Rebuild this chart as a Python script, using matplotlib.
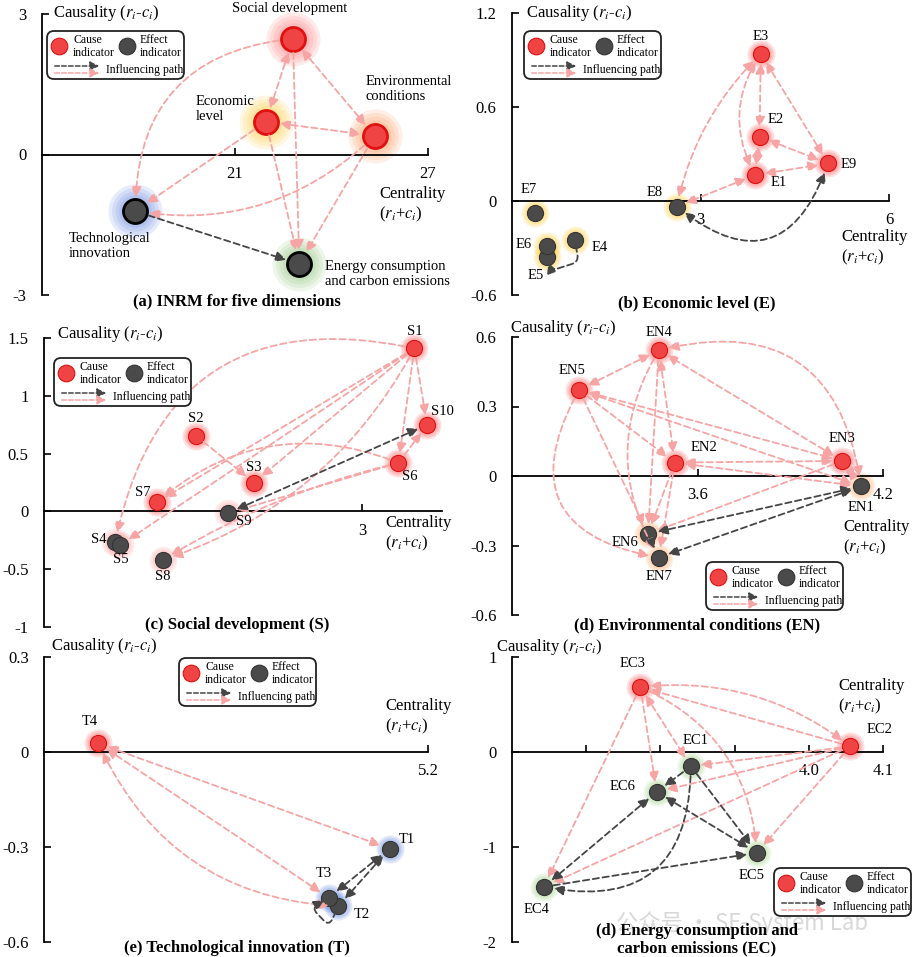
import matplotlib.pyplot as plt
import matplotlib.patches as mpatches
from matplotlib.lines import Line2D
from matplotlib.transforms import Affine2D

plt.rcParams['font.family'] = ['Liberation Serif', 'DejaVu Serif']
plt.rcParams['mathtext.fontset'] = 'stix'
plt.rcParams['axes.unicode_minus'] = False

# ---------------- data ----------------
# (a) five dimensions
dim_ids = ['S', 'E', 'EN', 'T', 'EC']
dim_names = ['Social development', 'Economic\nlevel', 'Environmental\nconditions',
             'Technological\ninnovation', 'Energy consumption\nand carbon emissions']
dim_x = [22.8, 21.96, 25.34, 17.9, 23.0]
dim_y = [2.47, 0.70, 0.40, -1.21, -2.34]
dim_edges = [('S', 'E', '<->'), ('S', 'EN', '<->'), ('E', 'EN', '<->'), ('S', 'T', '->'),
             ('S', 'EC', '->'), ('E', 'T', '->'), ('E', 'EC', '->'), ('EN', 'T', '->'),
             ('EN', 'EC', '->'), ('T', 'EC', 'd->')]

# (b) economic level
e_ids = ['E1', 'E2', 'E3', 'E4', 'E5', 'E6', 'E7', 'E8', 'E9']
e_x = [3.87, 3.94, 3.96, 1.00, 0.55, 0.55, 0.36, 2.62, 5.03]
e_y = [0.166, 0.41, 0.94, -0.25, -0.36, -0.29, -0.079, -0.036, 0.24]
e_edges = [('E3', 'E8', '<->'), ('E3', 'E2', '<->'), ('E3', 'E1', '<->'), ('E3', 'E9', '<->'),
           ('E2', 'E1', '<->'), ('E2', 'E9', '<->'), ('E1', 'E9', '<->'), ('E1', 'E8', '<->'),
           ('E9', 'E8', 'd<->'), ('E4', 'E5', 'd->')]

# (c) social development
s_ids = ['S1', 'S2', 'S3', 'S4', 'S5', 'S6', 'S7', 'S8', 'S9', 'S10']
s_x = [3.49, 1.43, 1.98, 0.67, 0.72, 3.34, 1.06, 1.12, 1.73, 3.61]
s_y = [1.41, 0.655, 0.25, -0.265, -0.29, 0.42, 0.078, -0.42, -0.017, 0.75]
s_edges = [('S1', 'S4', '->'), ('S1', 'S10', '->'), ('S1', 'S6', '->'), ('S1', 'S3', '->'),
           ('S1', 'S7', '->'), ('S1', 'S5', '->'), ('S1', 'S8', '->'), ('S6', 'S7', '->'),
           ('S6', 'S9', '->'), ('S6', 'S8', '->'), ('S6', 'S10', '->'), ('S2', 'S3', '->'),
           ('S9', 'S10', 'd<->')]

# (d) environmental conditions
en_ids = ['EN1', 'EN2', 'EN3', 'EN4', 'EN5', 'EN6', 'EN7']
en_x = [4.129, 3.527, 4.069, 3.475, 3.217, 3.44, 3.475]
en_y = [-0.045, 0.058, 0.065, 0.543, 0.372, -0.25, -0.352]
en_edges = [('EN4', 'EN5', '<->'), ('EN4', 'EN6', '->'), ('EN4', 'EN2', '<->'), ('EN3', 'EN4', '<->'),
            ('EN4', 'EN1', '<->'), ('EN4', 'EN7', '->'), ('EN5', 'EN2', '->'), ('EN5', 'EN3', '<->'),
            ('EN5', 'EN1', '<->'), ('EN5', 'EN6', '->'), ('EN5', 'EN7', '->'), ('EN2', 'EN3', '<->'),
            ('EN2', 'EN1', '<->'), ('EN2', 'EN6', '->'), ('EN2', 'EN7', '->'), ('EN3', 'EN6', '->'),
            ('EN3', 'EN1', '<->'), ('EN1', 'EN6', 'd<->'), ('EN1', 'EN7', 'd<->'), ('EN6', 'EN7', 'd->')]

# (e) technological innovation
t_ids = ['T1', 'T2', 'T3', 'T4']
t_x = [5.08, 4.92, 4.89, 4.17]
t_y = [-0.305, -0.487, -0.46, 0.027]
t_edges = [('T4', 'T1', '<->'), ('T4', 'T3', '<->'), ('T4', 'T2', '<->'),
           ('T1', 'T3', 'd<->'), ('T1', 'T2', 'd<->'), ('T2', 'T3', 'd->')]

# (f) energy consumption and carbon emissions
ec_ids = ['EC1', 'EC2', 'EC3', 'EC4', 'EC5', 'EC6']
ec_x = [3.841, 4.056, 3.773, 3.643, 3.930, 3.795]
ec_y = [-0.15, 0.06, 0.684, -1.42, -1.06, -0.42]
ec_edges = [('EC3', 'EC2', '<->'), ('EC2', 'EC3', '->'), ('EC3', 'EC4', '->'), ('EC3', 'EC6', '->'),
            ('EC3', 'EC1', '<->'), ('EC3', 'EC5', '->'), ('EC2', 'EC1', '->'), ('EC2', 'EC6', '->'),
            ('EC2', 'EC4', '->'), ('EC2', 'EC5', '->'), ('EC1', 'EC6', 'd->'), ('EC1', 'EC5', 'd->'),
            ('EC1', 'EC4', 'd->'), ('EC6', 'EC4', 'd<->'), ('EC6', 'EC5', 'd<->'), ('EC4', 'EC5', 'd->')]

# ---------------- styles ----------------
PINK = '#f6a4a4'
DARK = '#454545'
RED = '#f04444'
REDEDGE = '#e01010'
GREY = '#4a4a4a'

W, H = 913, 957
fig = plt.figure(figsize=(W / 100, H / 100), dpi=100)
pix = Affine2D().scale(1 / W, -1 / H).translate(0, 1) + fig.transFigure


def make_ax(box, xlim, ylim, xt, xtl, yt, ytl):
    x0, y0, x1, y1 = box
    ax = fig.add_axes([x0 / W, 1 - y1 / H, (x1 - x0) / W, (y1 - y0) / H])
    ax.set_xlim(xlim)
    ax.set_ylim(ylim)
    ax.spines['top'].set_visible(False)
    ax.spines['right'].set_visible(False)
    ax.spines['bottom'].set_position(('data', 0))
    ax.spines['left'].set_linewidth(1.3)
    ax.spines['bottom'].set_linewidth(1.3)
    ax.set_xticks(xt, xtl)
    ax.set_yticks(yt, ytl)
    ax.tick_params(axis='x', direction='in', length=5, width=1.2, labelsize=12, pad=8)
    ax.tick_params(axis='y', direction='in', length=5, width=1.2, labelsize=12, pad=11)
    ax.patch.set_alpha(0)
    return ax


def draw_edges(ax, pos, edges, bend, shrink, tight=()):
    for a, b, mode in edges:
        col = DARK if mode.startswith('d') else PINK
        style = '<|-|>' if '<' in mode else '-|>'
        cs = bend.get((a, b), 0)
        if not isinstance(cs, str):
            cs = f'arc3,rad={cs}'
        sh = 4 if (a, b) in tight else shrink
        arr = mpatches.FancyArrowPatch(pos[a], pos[b], connectionstyle=cs,
                                       arrowstyle=style + ',head_length=0.6,head_width=0.3',
                                       mutation_scale=10, color=col, lw=1.3,
                                       linestyle=(0, (3.5, 2)), shrinkA=sh, shrinkB=sh,
                                       zorder=5, clip_on=False)
        ax.add_patch(arr)


def draw_nodes(ax, ids, xs, ys, glow, big=False):
    r = 27 if big else 14
    for k, x, y in zip(ids, xs, ys):
        for i in range(6):
            d = r * (1 - i * 0.13) * 2 * 0.72
            ax.scatter(x, y, s=d ** 2, color=glow[k], alpha=0.14 if big else 0.17, lw=0,
                       zorder=1, clip_on=False)
    for k, x, y in zip(ids, xs, ys):
        cause = y > 0
        ax.scatter(x, y, s=300 if big else 135, color=RED if cause else GREY,
                   edgecolors=(REDEDGE if cause else ('black' if big else '#333333')),
                   linewidths=2 if big else 0.8, zorder=4, clip_on=False)


def draw_labels(ax, ids, xs, ys, names, offs, size=10.5):
    for k, x, y, n in zip(ids, xs, ys, names):
        dx, dy, ha = offs[k]
        ax.annotate(n, (x, y), xytext=(dx, dy), textcoords='offset pixels', ha=ha, va='center',
                    fontsize=size, zorder=6, annotation_clip=False)


def legend(x0, y0):
    fig.add_artist(mpatches.FancyBboxPatch((x0, y0), 137, 48, boxstyle='round,pad=0,rounding_size=7',
                                           transform=pix, fc='white', ec='#222222', lw=1.3, zorder=6))
    fig.add_artist(Line2D([x0 + 12], [y0 + 15], marker='o', ms=12, mfc=RED, mec=REDEDGE, mew=0.8,
                          transform=pix, zorder=7))
    fig.add_artist(Line2D([x0 + 80], [y0 + 15], marker='o', ms=12, mfc=GREY, mec='#333333', mew=0.8,
                          transform=pix, zorder=7))
    for tx, t1 in [(x0 + 26, 'Cause'), (x0 + 93, 'Effect')]:
        fig.text(tx, y0 + 9, t1, transform=pix, fontsize=8.5, va='center', zorder=7)
        fig.text(tx, y0 + 22, 'indicator', transform=pix, fontsize=8.5, va='center', zorder=7)
    for yy, col in [(y0 + 35, DARK), (y0 + 42, PINK)]:
        fig.add_artist(mpatches.FancyArrowPatch((x0 + 5, yy), (x0 + 55, yy), transform=pix,
                                                arrowstyle='-|>,head_length=0.6,head_width=0.3',
                                                mutation_scale=9, color=col, lw=1.1,
                                                linestyle=(0, (3, 1.5)), zorder=7))
    fig.text(x0 + 59, y0 + 39, 'Influencing path', transform=pix, fontsize=8.5, va='center', zorder=7)


def axis_texts(cx, cy, rx, ry):
    fig.text(cx, cy, 'Causality ($r_i$-$c_i$)', transform=pix, fontsize=12, va='center')
    fig.text(rx, ry, 'Centrality\n($r_i$+$c_i$)', transform=pix, fontsize=12, va='center')


def title(x, y, s):
    fig.text(x, y, s, transform=pix, fontsize=12, fontweight='bold', ha='center', va='center',
             multialignment='center', linespacing=1.1)


# ---------------- (a) ----------------
ax = make_ax((42, 14, 428, 295), (15, 27), (-3, 3), [21, 27], ['21', '27'], [-3, 0, 3], ['-3', '0', '3'])
pos = dict(zip(dim_ids, zip(dim_x, dim_y)))
draw_edges(ax, pos, dim_edges, {('S', 'T'): 0.45, ('EN', 'T'): -0.25}, 10)
draw_nodes(ax, dim_ids, dim_x, dim_y,
           {'S': '#ff7070', 'E': '#ffc830', 'EN': '#ff9050', 'T': '#5a7fe0', 'EC': '#88c070'}, big=True)
draw_labels(ax, dim_ids, dim_x, dim_y, dim_names,
            {'S': (-3, 30, 'center'), 'E': (-70, 13, 'left'), 'EN': (-9, 47, 'left'),
             'T': (-67, -35, 'left'), 'EC': (26, -10, 'left')})
legend(47, 31)
axis_texts(53, 13, 379, 205)
title(237, 301, '(a) INRM for five dimensions')

# ---------------- (b) ----------------
ax = make_ax((512, 13, 889, 295), (0, 6), (-0.6, 1.2), [3, 6], ['3', '6'],
             [-0.6, 0, 0.6, 1.2], ['-0.6', '0', '0.6', '1.2'])
pos = dict(zip(e_ids, zip(e_x, e_y)))
draw_edges(ax, pos, e_edges, {('E3', 'E8'): 0.15, ('E3', 'E1'): 0.3, ('E9', 'E8'): -0.7,
                              ('E4', 'E5'): 'arc,angleA=-80,angleB=-70,armA=22,armB=14,rad=7'},
           7, tight={('E4', 'E5')})
draw_nodes(ax, e_ids, e_x, e_y, {k: ('#ff5050' if y > 0 else '#ffc820') for k, y in zip(e_ids, e_y)})
draw_labels(ax, e_ids, e_x, e_y, e_ids,
            {'E1': (24, -8, 'center'), 'E2': (16, 17, 'center'), 'E3': (0, 17, 'center'),
             'E4': (25, -7, 'center'), 'E5': (-11, -18, 'center'), 'E6': (-23, 2, 'center'),
             'E7': (-6, 24, 'center'), 'E8': (-22, 14, 'center'), 'E9': (21, -1, 'center')})
legend(524, 31)
axis_texts(526, 13, 841, 248)
title(697, 303, '(b) Economic level (E)')

# ---------------- (c) ----------------
ax = make_ax((44, 338, 442, 627), (0, 3.75), (-1, 1.5), [3], ['3'],
             [-1, -0.5, 0, 0.5, 1, 1.5], ['-1', '-0.5', '0', '0.5', '1', '1.5'])
pos = dict(zip(s_ids, zip(s_x, s_y)))
draw_edges(ax, pos, s_edges, {('S1', 'S4'): 0.5, ('S1', 'S8'): -0.2, ('S6', 'S7'): 0.3,
                              ('S6', 'S8'): 0.08}, 7)
draw_nodes(ax, s_ids, s_x, s_y, {k: ('#ff5050' if y > 0 else '#ffa0a0') for k, y in zip(s_ids, s_y)})
draw_labels(ax, s_ids, s_x, s_y, s_ids,
            {'S1': (0, 17, 'center'), 'S2': (0, 17, 'center'), 'S3': (0, 15, 'center'),
             'S4': (-16, 3, 'center'), 'S5': (0, -15, 'center'), 'S6': (11, -14, 'center'),
             'S7': (-14, 10, 'center'), 'S8': (0, -17, 'center'), 'S9': (16, -8, 'center'),
             'S10': (15, 13, 'center')})
legend(54, 358)
axis_texts(57, 334, 385, 534)
title(237, 625, '(c) Social development (S)')

# ---------------- (d) ----------------
ax = make_ax((512, 337, 883, 615), (3.0, 4.2), (-0.6, 0.6), [3.6, 4.2], ['3.6', '4.2'],
             [-0.6, -0.3, 0, 0.3, 0.6], ['-0.6', '-0.3', '0', '0.3', '0.6'])
pos = dict(zip(en_ids, zip(en_x, en_y)))
draw_edges(ax, pos, en_edges, {('EN4', 'EN1'): -0.55, ('EN5', 'EN7'): 0.7, ('EN4', 'EN7'): 0.3}, 7)
draw_nodes(ax, en_ids, en_x, en_y, {k: ('#ff5050' if y > 0 else '#ffa860') for k, y in zip(en_ids, en_y)})
draw_labels(ax, en_ids, en_x, en_y, en_ids,
            {'EN1': (0, -21, 'center'), 'EN2': (29, 15, 'center'), 'EN3': (0, 22, 'center'),
             'EN4': (0, 18, 'center'), 'EN5': (-7, 19, 'center'), 'EN6': (-23, -9, 'center'),
             'EN7': (0, -19, 'center')})
legend(706, 562)
axis_texts(510, 328, 843, 538)
title(697, 625, '(d) Environmental conditions (EN)')

# ---------------- (e) ----------------
ax = make_ax((44, 657, 428, 942), (4.0, 5.2), (-0.6, 0.3), [5.2], ['5.2'],
             [-0.6, -0.3, 0, 0.3], ['-0.6', '-0.3', '0', '0.3'])
pos = dict(zip(t_ids, zip(t_x, t_y)))
draw_edges(ax, pos, t_edges, {('T4', 'T2'): 0.3,
                              ('T2', 'T3'): 'arc,angleA=-115,angleB=-150,armA=22,armB=20,rad=8'},
           7, tight={('T2', 'T3')})
draw_nodes(ax, t_ids, t_x, t_y, {k: ('#ff5050' if y > 0 else '#5a7fe0') for k, y in zip(t_ids, t_y)})
draw_labels(ax, t_ids, t_x, t_y, t_ids,
            {'T1': (17, 9, 'center'), 'T2': (23, -8, 'center'), 'T3': (-5, 24, 'center'),
             'T4': (-9, 22, 'center')})
legend(179, 658)
axis_texts(51, 646, 385, 717)
title(237, 948, '(e) Technological innovation (T)')

# ---------------- (f) ----------------
ax = make_ax((512, 657, 883, 942), (3.6, 4.1), (-2, 1), [3.7, 3.8, 3.9, 4.0, 4.1],
             ['', '', '', '4.0', '4.1'], [-2, -1, 0, 1], ['-2', '-1', '0', '1'])
pos = dict(zip(ec_ids, zip(ec_x, ec_y)))
draw_edges(ax, pos, ec_edges, {('EC3', 'EC2'): -0.2, ('EC3', 'EC5'): -0.3, ('EC1', 'EC4'): -0.6}, 7)
draw_nodes(ax, ec_ids, ec_x, ec_y, {k: ('#ff5050' if y > 0 else '#9cd080') for k, y in zip(ec_ids, ec_y)})
draw_labels(ax, ec_ids, ec_x, ec_y, ec_ids,
            {'EC1': (5, 26, 'center'), 'EC2': (29, 17, 'center'), 'EC3': (-8, 24, 'center'),
             'EC4': (-7, -23, 'center'), 'EC5': (-5, -23, 'center'), 'EC6': (-34, 5, 'center')})
legend(774, 868)
axis_texts(496, 647, 838, 697)
fig.text(742, 923, '公众号 · SF-System Lab', transform=pix, fontsize=16, color='#b8b8b8', alpha=0.55,
         ha='center', va='center', family=['Noto Sans CJK SC', 'DejaVu Sans'], zorder=0)
title(697, 940, '(d) Energy consumption and\ncarbon emissions (EC)')

fig.savefig('out.png', dpi=100)
